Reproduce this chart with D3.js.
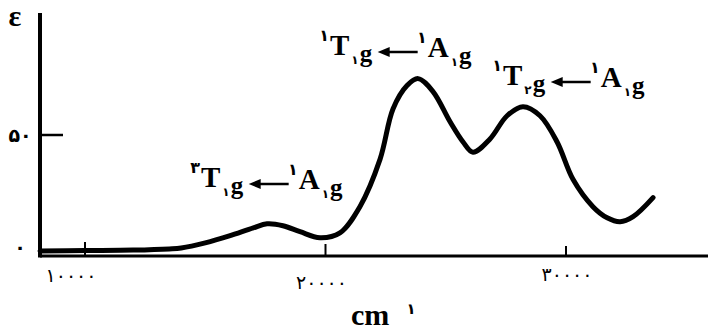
<!DOCTYPE html>
<html lang="fa">
<head>
  <meta charset="UTF-8">
  <title>Absorption spectrum</title>
  <style>
    body { margin: 0; background: #fff; }
    svg { display: block; }
    .serif { font-family: "Liberation Serif", "DejaVu Serif", serif; font-weight: bold; }
    .fa { font-family: "DejaVu Sans", "Noto Sans", sans-serif; }
  </style>
  <script src="https://cdn.jsdelivr.net/npm/d3@7"></script>
</head>
<body>
<svg id="chart" width="708" height="331"></svg>
<script>
// wavenumber (cm-1) and epsilon
var wavenumber = [8130, 10000, 12000, 13500, 14000, 15000, 16000, 17000, 17570, 18230, 18940, 19770,
                  20600, 21430, 22270, 22810, 23390, 23850, 24470, 25180, 25720, 26130, 26840, 27550,
                  28210, 28920, 29630, 30290, 31120, 31710, 32250, 32790, 33620];
var epsilon = [0, 0.2, 0.4, 0.9, 1.3, 3.5, 6.5, 10, 11.7, 10.9, 8.3, 5.7,
               7.8, 19.1, 39.6, 61.3, 71.3, 74.3, 68.7, 55.7, 47, 42.6, 48.3, 58.3,
               62.2, 58.3, 47, 30.9, 19.1, 14.3, 12.6, 14.8, 23];

var xTicks = [10000, 20000, 30000];
var xTickLabels = ["۱۰۰۰۰", "۲۰۰۰۰", "۳۰۰۰۰"];
var yTicks = [0, 50];
var yTickLabels = ["۰", "۵۰"];

// transitions: [spin mult, term, sub digit] <- [spin mult, term, sub digit]
var transUpper = [["۳", "T", "۱"], ["۱", "T", "۱"], ["۱", "T", "۲"]];
var transLower = [["۱", "A", "۱"], ["۱", "A", "۱"], ["۱", "A", "۱"]];

var svg = d3.select("#chart");

var x = d3.scaleLinear().domain([10000, 30000]).range([85, 566]);
var y = d3.scaleLinear().domain([0, 50]).range([251, 135]);

var axisX0 = 40, axisY0 = 256;

// axes
svg.append("line")
  .attr("x1", axisX0).attr("x2", 708)
  .attr("y1", axisY0).attr("y2", axisY0)
  .attr("stroke", "#000").attr("stroke-width", 3);
svg.append("line")
  .attr("x1", axisX0).attr("x2", axisX0)
  .attr("y1", 13).attr("y2", axisY0 + 1.5)
  .attr("stroke", "#000").attr("stroke-width", 4);

// x ticks
var tickLen = [14, 12, 10];
var labelDx = [-14, -4, 1];
var labelDy = [26, 33, 25];
xTicks.forEach(function(v, i) {
  svg.append("line")
    .attr("x1", x(v)).attr("x2", x(v))
    .attr("y1", axisY0 - tickLen[i]).attr("y2", axisY0)
    .attr("stroke", "#000").attr("stroke-width", 2);
  svg.append("text")
    .attr("class", "fa")
    .attr("x", x(v) + labelDx[i]).attr("y", axisY0 + labelDy[i])
    .attr("text-anchor", "middle")
    .attr("font-size", 19)
    .text(xTickLabels[i]);
});

// y ticks
svg.append("line")
  .attr("x1", axisX0).attr("x2", 63)
  .attr("y1", y(50)).attr("y2", y(50))
  .attr("stroke", "#000").attr("stroke-width", 2.5);
yTicks.forEach(function(v, i) {
  svg.append("text")
    .attr("class", "fa")
    .attr("x", 20).attr("y", y(v) + (v === 0 ? -4 : 0))
    .attr("dy", "0.35em")
    .attr("text-anchor", "middle")
    .attr("font-size", 19)
    .attr("font-weight", "bold")
    .text(yTickLabels[i]);
});

// axis titles
svg.append("text").attr("class", "serif")
  .attr("x", 15).attr("y", 26).attr("text-anchor", "middle")
  .attr("font-size", 30).text("ε");
svg.append("text").attr("class", "serif")
  .attr("x", 351).attr("y", 325)
  .attr("font-size", 30).text("cm");
svg.append("text").attr("class", "fa")
  .attr("x", 411).attr("y", 314).attr("text-anchor", "middle")
  .attr("font-size", 15).attr("font-weight", "bold").text("۱");

// spectrum
var pts = wavenumber.map(function(v, i) { return [v, epsilon[i]]; });
var line = d3.line()
  .x(function(d) { return x(d[0]); })
  .y(function(d) { return y(d[1]); })
  .curve(d3.curveCatmullRom.alpha(0.5));
svg.append("path")
  .datum(pts)
  .attr("d", line)
  .attr("fill", "none")
  .attr("stroke", "#000")
  .attr("stroke-width", 5)
  .attr("stroke-linecap", "round")
  .attr("stroke-linejoin", "round");

// transition labels
var labelPos = [[201, 187], [330, 55], [503, 85]];

function term(g, dx, by, sup, letter, sub) {
  g.append("text").attr("class", "fa")
    .attr("x", dx - 1).attr("y", by - 14)
    .attr("text-anchor", "end").attr("font-size", 16).attr("font-weight", "bold")
    .text(sup);
  var t = g.append("text").attr("class", "serif")
    .attr("x", dx).attr("y", by)
    .attr("font-size", 29).text(letter);
  var w = t.node().getComputedTextLength();
  var s = g.append("text").attr("class", "fa")
    .attr("x", dx + w + 2).attr("y", by + 9)
    .attr("font-size", 12).attr("font-weight", "bold").text(sub);
  var sw = s.node().getComputedTextLength();
  g.append("text").attr("class", "serif")
    .attr("x", dx + w + 3 + sw).attr("y", by + 7)
    .attr("font-size", 25).text("g");
  return w + sw;
}

labelPos.forEach(function(p, i) {
  var g = svg.append("g").attr("transform", "translate(" + p[0] + "," + p[1] + ")");
  var w1 = term(g, 0, 0, transUpper[i][0], transUpper[i][1], transUpper[i][2]);
  var ax0 = w1 + 21, ax1 = ax0 + 40, ay = -3;
  g.append("line")
    .attr("x1", ax0 + 8).attr("x2", ax1)
    .attr("y1", ay).attr("y2", ay)
    .attr("stroke", "#000").attr("stroke-width", 2.5);
  g.append("path")
    .attr("d", "M" + ax0 + "," + ay + "L" + (ax0 + 12) + "," + (ay - 5) + "L" + (ax0 + 12) + "," + (ay + 5) + "Z")
    .attr("fill", "#000");
  term(g, ax1 + 10, 2, transLower[i][0], transLower[i][1], transLower[i][2]);
});
</script>
</body>
</html>
